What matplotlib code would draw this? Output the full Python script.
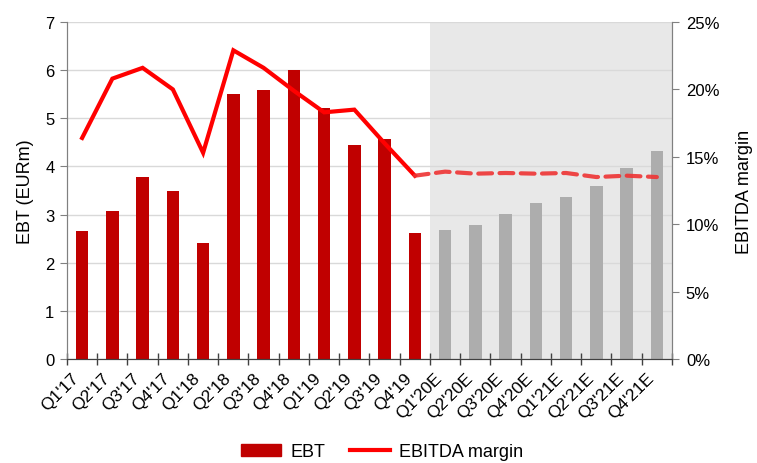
import matplotlib.pyplot as plt
from matplotlib.patches import Patch
from matplotlib.lines import Line2D
from matplotlib.ticker import FuncFormatter

plt.rcParams['font.family'] = ['Liberation Sans', 'DejaVu Sans']

quarters = ["Q1'17", "Q2'17", "Q3'17", "Q4'17", "Q1'18", "Q2'18", "Q3'18", "Q4'18",
            "Q1'19", "Q2'19", "Q3'19", "Q4'19",
            "Q1'20E", "Q2'20E", "Q3'20E", "Q4'20E", "Q1'21E", "Q2'21E", "Q3'21E", "Q4'21E"]
ebt = [2.66, 3.07, 3.78, 3.50, 2.42, 5.51, 5.59, 6.00, 5.22, 4.45, 4.58, 2.62,
       2.68, 2.79, 3.01, 3.24, 3.37, 3.60, 3.96, 4.32]
margin = [16.4, 20.8, 21.6, 20.0, 15.3, 22.9, 21.6, 19.9, 18.3, 18.5, 16.0, 13.6,
          13.9, 13.75, 13.8, 13.75, 13.8, 13.5, 13.6, 13.5]
n_actual = 12

x = list(range(len(quarters)))
bar_colors = ['#C00000'] * n_actual + ['#ADADAD'] * (len(quarters) - n_actual)

fig = plt.figure(figsize=(7.57, 4.64), dpi=100)
ax = fig.add_axes([0.0885, 0.2241, 0.7992, 0.7263])
ax2 = ax.twinx()

ax.axvspan(n_actual - 0.5, len(quarters) - 0.5, color='#E8E8E8', zorder=0.1, lw=0)
ax.set_axisbelow(True)
ax.grid(axis='y', color='#D9D9D9', lw=1)
ax.bar(x, ebt, width=0.41, color=bar_colors, zorder=2)

ax2.plot(x[:n_actual], margin[:n_actual], color='#FF0000', lw=3, solid_joinstyle='miter')
ax2.plot(x[n_actual - 1:], margin[n_actual - 1:], color='#EE3333', lw=3,
         dashes=(3.3, 1.8), dash_capstyle='round', alpha=0.9)

ax.set_xlim(-0.5, len(quarters) - 0.5)
ax.set_ylim(0, 7)
ax2.set_ylim(0, 25)
ax.set_yticks(range(8))
ax2.set_yticks(range(0, 26, 5))
ax2.yaxis.set_major_formatter(FuncFormatter(lambda v, p: f"{v:.0f}%"))

ax.set_xticks(x)
ax.set_xticklabels(quarters, rotation=45, ha='right', fontsize=12.5)
ax.set_xticks([i - 0.5 for i in range(len(quarters) + 1)], minor=True)
ax.tick_params(axis='x', which='major', length=0, pad=8)
ax.tick_params(axis='x', which='minor', direction='inout', length=8, width=1, color='#404040')
ax.tick_params(axis='y', labelsize=12, length=5, color='#808080', pad=4)
ax2.tick_params(axis='y', labelsize=12, length=5, color='#808080', pad=5)

ax.set_ylabel('EBT (EURm)', fontsize=13, labelpad=8)
ax2.set_ylabel('EBITDA margin', fontsize=13, labelpad=12)

for a in (ax, ax2):
    a.spines['top'].set_visible(False)
    a.spines['left'].set_color('#808080')
    a.spines['right'].set_color('#808080')
    a.spines['bottom'].set_color('#404040')

handles = [Patch(color='#C00000', label='EBT'),
           Line2D([0], [0], color='#FF0000', lw=3, label='EBITDA margin')]
fig.legend(handles=handles, loc='center', bbox_to_anchor=(0.505, 0.024), ncol=2,
           frameon=False, fontsize=13, handlelength=2.2, columnspacing=1.4, handletextpad=0.5)

fig.savefig('out.png', dpi=100)
